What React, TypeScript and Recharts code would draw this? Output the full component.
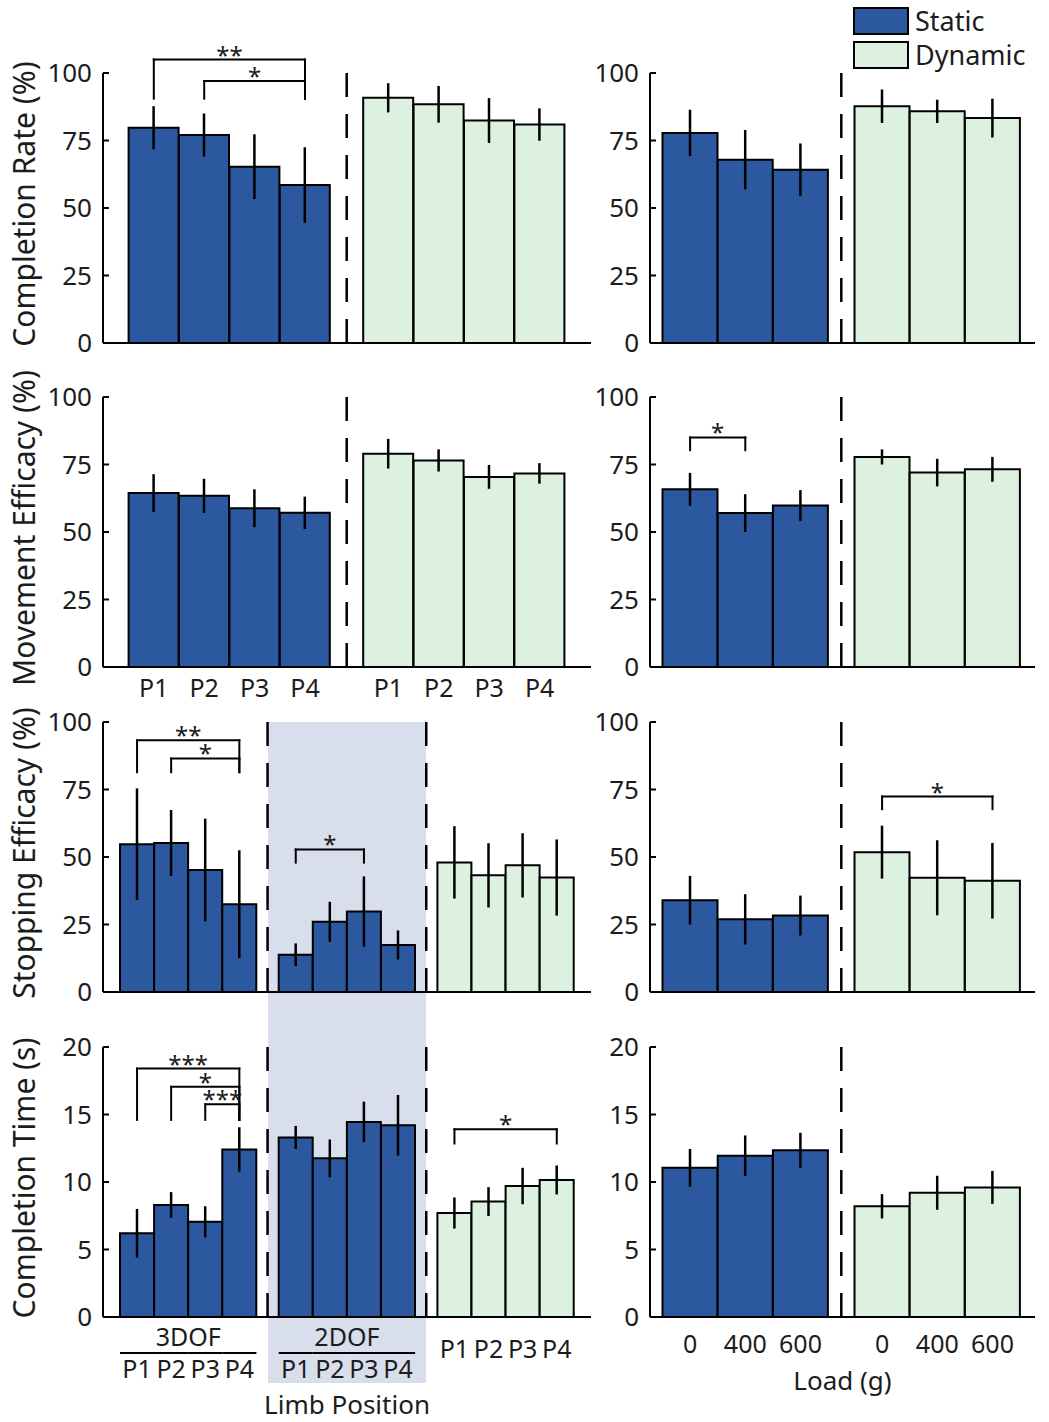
import React from 'react';
import { BarChart, Bar, XAxis, YAxis, ErrorBar, ReferenceLine, Legend } from 'recharts';

// ---------------- data ----------------
const positions = ['P1', 'P2', 'P3', 'P4'];
const loads = ['0', '400', '600'];
const pctTicks = [0, 25, 50, 75, 100];
const timeTicks = [0, 5, 10, 15, 20];
const legendItems = ['Static', 'Dynamic'];

// Completion rate (%)
const crPosStatic = [79.7, 77, 65.3, 58.5];
const crPosStaticErr = [8, 8, 12, 14];
const crPosDynamic = [90.8, 88.4, 82.4, 80.9];
const crPosDynamicErr = [5.4, 6.8, 8.3, 6];
const crLoadStatic = [77.8, 67.9, 64.2];
const crLoadStaticErr = [8.6, 11, 9.7];
const crLoadDynamic = [87.7, 85.8, 83.3];
const crLoadDynamicErr = [6.2, 4.3, 7.2];

// Movement efficacy (%)
const mePosStatic = [64.4, 63.4, 58.8, 57.1];
const mePosStaticErr = [7, 6.3, 7, 6];
const mePosDynamic = [79, 76.5, 70.4, 71.7];
const mePosDynamicErr = [5.5, 4.1, 4.4, 3.8];
const meLoadStatic = [65.8, 57, 59.8];
const meLoadStaticErr = [6.1, 7, 5.7];
const meLoadDynamic = [77.8, 72, 73.2];
const meLoadDynamicErr = [2.8, 5.1, 4.6];

// Stopping efficacy (%)
const sePos3dof = [54.7, 55.2, 45.2, 32.5];
const sePos3dofErr = [20.7, 12.2, 19, 20];
const sePos2dof = [13.8, 26, 29.8, 17.4];
const sePos2dofErr = [4.2, 7.4, 13, 5.4];
const sePosDynamic = [48, 43.2, 46.9, 42.4];
const sePosDynamicErr = [13.4, 11.9, 11.9, 14.1];
const seLoadStatic = [34, 26.9, 28.3];
const seLoadStaticErr = [9, 9.3, 7.4];
const seLoadDynamic = [51.8, 42.3, 41.2];
const seLoadDynamicErr = [9.8, 13.9, 14];

// Completion time (s)
const ctPos3dof = [6.2, 8.3, 7.05, 12.4];
const ctPos3dofErr = [1.8, 0.95, 1.15, 1.65];
const ctPos2dof = [13.3, 11.75, 14.45, 14.2];
const ctPos2dofErr = [0.85, 1.4, 1.5, 2.25];
const ctPosDynamic = [7.7, 8.55, 9.7, 10.15];
const ctPosDynamicErr = [1.15, 1.07, 1.35, 1.07];
const ctLoadStatic = [11.05, 11.95, 12.35];
const ctLoadStaticErr = [1.4, 1.5, 1.3];
const ctLoadDynamic = [8.2, 9.2, 9.6];
const ctLoadDynamicErr = [0.9, 1.26, 1.22];

// significance brackets (axis group, from, to, top value, leg bottom value, label)
const crPosBrackets = [
  { axis: 's', from: 'P1', to: 'P4', top: 105, leg: 90.5, label: '**' },
  { axis: 's', from: 'P2', to: 'P4', top: 97, leg: 90.5, label: '*' },
];
const meLoadBrackets = [{ axis: 's', from: '0', to: '400', top: 85, leg: 80.3, label: '*' }];
const sePosBrackets = [
  { axis: 'a', from: 'P1', to: 'P4', top: 93.2, leg: 81.4, label: '**' },
  { axis: 'a', from: 'P2', to: 'P4', top: 86.5, leg: 81.4, label: '*' },
  { axis: 'b', from: 'P1', to: 'P3', top: 52.8, leg: 47.9, label: '*' },
];
const seLoadBrackets = [{ axis: 'd', from: '0', to: '600', top: 72.4, leg: 67.7, label: '*' }];
const ctPosBrackets = [
  { axis: 'a', from: 'P1', to: 'P4', top: 18.4, leg: 14.6, label: '***' },
  { axis: 'a', from: 'P2', to: 'P4', top: 17.05, leg: 14.6, label: '*' },
  { axis: 'a', from: 'P3', to: 'P4', top: 15.75, leg: 14.6, label: '***' },
  { axis: 'd', from: 'P1', to: 'P4', top: 13.9, leg: 12.85, label: '*' },
];

// ---------------- styles / layout ----------------
const BLUE = '#2c58a0';
const GREEN = '#ddf1e1';
const SHADE = '#d8deeb';
const INK = '#1c1c1c';
const FONT = '"Noto Sans", "Open Sans", sans-serif';

const SIDES: any = {
  left: { x: 0, width: 592, yAxisWidth: 103, marginRight: 1 },
  right: { x: 592, width: 457, yAxisWidth: 58, marginRight: 14 },
};
const ROW_PLOT_TOP = [73, 397, 722, 1047];
const PLOT_H = 270;
const ROW_MARGIN_TOP = [73, 60, 60, 60];
const ROW_MARGIN_BOTTOM = [40, 40, 40, 125];
const SPACING: any = {
  pos2: { padL: 25.6, slot: 50.4, gap: 33 },
  pos3: { padL: 17, slot: 34.1, gap: 22.3 },
  load: { padL: 12.5, slot: 55.2, gap: 26.4 },
};
const SHADE_BOTTOM = 1383;
const AXIS_H = 0.01;

const groupPadding = (sp: any, n: number, i: number, plotW: number) => {
  const start = sp.padL + i * (n * sp.slot + sp.gap);
  return { left: start, right: plotW - start - n * sp.slot };
};
const separatorPositions = (sp: any, n: number, count: number) =>
  Array.from({ length: count - 1 }, (_, i) => sp.padL + (i + 1) * n * sp.slot + i * sp.gap + sp.gap / 2);

const buildRows = (cats: string[], series: Record<string, number[]>) =>
  cats.map((c, i) => {
    const r: any = { cat: c };
    Object.keys(series).forEach((k) => {
      r[k] = series[k][i];
    });
    return r;
  });

// ---------------- components ----------------
const YTitle = (p: any) => {
  const vb = p.viewBox || { x: 0, y: 0, height: PLOT_H };
  const cx = vb.x + 24;
  const cy = vb.y + vb.height / 2 - 4;
  return (
    <text x={cx} y={cy} transform={`rotate(-90 ${cx} ${cy})`} textAnchor="middle" dominantBaseline="central" fontSize={30} fill={INK}>
      {p.text}
    </text>
  );
};

const GroupTick = (p: any) => {
  const { x, y, payload, index, title, slot } = p;
  return (
    <g>
      <line x1={x - slot / 2} x2={x + slot / 2} y1={y + 36} y2={y + 36} stroke="#000" strokeWidth={2} />
      <text x={x} y={y + 61.5} textAnchor="middle" fontSize={25} fill={INK}>
        {payload.value}
      </text>
      {index === 1 ? (
        <text x={x + slot / 2} y={y + 29.5} textAnchor="middle" fontSize={25} fill={INK}>
          {title}
        </text>
      ) : null}
    </g>
  );
};

const SepLine = (p: any) => {
  const top = Math.min(p.y1, p.y2);
  const bottom = Math.max(p.y1, p.y2);
  const x = p.x1 + p.shift;
  return <line x1={x} x2={x} y1={top} y2={bottom} stroke="#000" strokeWidth={2.5} strokeDasharray="24 17" />;
};

const LegendBox = () => (
  <div style={{ display: 'flex', flexDirection: 'column', gap: 6, fontFamily: FONT }}>
    {legendItems.map((name, i) => (
      <div key={name} style={{ display: 'flex', alignItems: 'center', height: 28 }}>
        <div
          style={{
            width: 56,
            height: 28,
            boxSizing: 'border-box',
            background: i === 0 ? BLUE : GREEN,
            border: '2px solid #000',
          }}
        />
        <span style={{ marginLeft: 6, fontSize: 27, color: INK, lineHeight: '28px' }}>{name}</span>
      </div>
    ))}
  </div>
);

const bracketLines = (list: any[]) =>
  list.flatMap((b, i) => {
    const common = { xAxisId: b.axis, stroke: '#000', strokeWidth: 2, ifOverflow: 'visible' as const, strokeLinecap: 'square' as const };
    return [
      <ReferenceLine
        key={`bh${i}`}
        {...common}
        segment={[{ x: b.from, y: b.top }, { x: b.to, y: b.top }]}
        label={{ value: b.label, position: 'top', offset: -4, fontSize: 24, fill: INK }}
      />,
      <ReferenceLine key={`bl${i}`} {...common} segment={[{ x: b.from, y: b.top }, { x: b.from, y: b.leg }]} />,
      <ReferenceLine key={`br${i}`} {...common} segment={[{ x: b.to, y: b.top }, { x: b.to, y: b.leg }]} />,
    ];
  });

function Panel(props: any) {
  const side = SIDES[props.side];
  const mt = ROW_MARGIN_TOP[props.row];
  const mb = ROW_MARGIN_BOTTOM[props.row];
  const plotW = side.width - side.yAxisWidth - side.marginRight;
  const n = props.data.length;
  const height = mt + PLOT_H + mb;
  const sp = SPACING[props.spacing];
  return (
    <div style={{ position: 'absolute', left: side.x, top: ROW_PLOT_TOP[props.row] - mt }}>
      <BarChart
        width={side.width}
        height={height}
        data={props.data}
        margin={{ top: mt, right: side.marginRight, bottom: mb, left: 0 }}
        barCategoryGap={0}
        barGap={0}
      >
        <YAxis
          type="number"
          width={side.yAxisWidth}
          domain={props.yDomain}
          ticks={props.yTicks}
          interval={0}
          allowDataOverflow
          tickSize={-6}
          tickMargin={17}
          tick={{ fill: INK, fontSize: 26 }}
          axisLine={{ stroke: '#000', strokeWidth: 2 }}
          tickLine={{ stroke: '#000', strokeWidth: 2 }}
          label={props.yTitle ? <YTitle text={props.yTitle} /> : undefined}
        />
        {props.groups.map((g: any, i: number) => {
          const pad = groupPadding(sp, n, i, plotW);
          let tick: any = false;
          let margin = 0;
          if (typeof g.tick === 'number') {
            tick = { fill: INK, fontSize: 25 };
            margin = g.tick;
          } else if (g.tick && g.tick.title) {
            tick = <GroupTick title={g.tick.title} slot={sp.slot} />;
          }
          return (
            <XAxis
              key={g.id}
              xAxisId={g.id}
              dataKey="cat"
              type="category"
              height={AXIS_H}
              padding={pad}
              interval={0}
              axisLine={i === 0 ? { stroke: '#000', strokeWidth: 2 } : false}
              tickLine={false}
              tickSize={0}
              tickMargin={margin}
              tick={tick}
              label={
                i === 0 && props.xLabel
                  ? { value: props.xLabel.text, position: 'bottom', offset: props.xLabel.offset, fontSize: 26, fill: INK }
                  : undefined
              }
            />
          );
        })}
        {props.groups.slice(1).map((g: any, i: number) => (
          <ReferenceLine
            key={`sep${i}`}
            xAxisId={g.id}
            x={props.data[0].cat}
            position="start"
            ifOverflow="visible"
            stroke="#000"
            shape={<SepLine shift={-sp.gap / 2} />}
          />
        ))}
        {props.groups.map((g: any) => (
          <Bar
            key={`bar-${g.id}`}
            xAxisId={g.id}
            dataKey={g.key}
            name={g.name}
            fill={g.fill}
            stroke="#000"
            strokeWidth={2}
            isAnimationActive={false}
          >
            <ErrorBar dataKey={g.err} width={0} strokeWidth={2.5} stroke="#000" direction="y" />
          </Bar>
        ))}
        {bracketLines(props.brackets || [])}
        {props.legend ? (
          <Legend
            layout="vertical"
            align="center"
            verticalAlign="middle"
            wrapperStyle={{ left: 853 - side.x, top: 7 }}
            content={() => <LegendBox />}
          />
        ) : null}
      </BarChart>
    </div>
  );
}

const twoGroups = (sTick: any, dTick: any) => [
  { id: 's', key: 's', err: 'sErr', fill: BLUE, name: 'Static', tick: sTick },
  { id: 'd', key: 'd', err: 'dErr', fill: GREEN, name: 'Dynamic', tick: dTick },
];
const threeGroups = (aTick: any, bTick: any, dTick: any) => [
  { id: 'a', key: 'a', err: 'aErr', fill: BLUE, name: 'Static 3DOF', tick: aTick },
  { id: 'b', key: 'b', err: 'bErr', fill: BLUE, name: 'Static 2DOF', tick: bTick },
  { id: 'd', key: 'd', err: 'dErr', fill: GREEN, name: 'Dynamic', tick: dTick },
];

export default function App() {
  const leftPlotX = SIDES.left.x + SIDES.left.yAxisWidth;
  const shadeSeps = separatorPositions(SPACING.pos3, positions.length, 3);

  return (
    <div
      style={{
        position: 'absolute',
        left: 0,
        top: 0,
        width: 1049,
        height: 1422,
        background: '#fff',
        fontFamily: FONT,
        overflow: 'hidden',
      }}
    >
      <div
        style={{
          position: 'absolute',
          left: leftPlotX + shadeSeps[0],
          top: ROW_PLOT_TOP[2],
          width: shadeSeps[1] - shadeSeps[0],
          height: SHADE_BOTTOM - ROW_PLOT_TOP[2],
          background: SHADE,
        }}
      />

      <Panel
        side="left"
        row={0}
        spacing="pos2"
        data={buildRows(positions, { s: crPosStatic, sErr: crPosStaticErr, d: crPosDynamic, dErr: crPosDynamicErr })}
        groups={twoGroups(null, null)}
        yDomain={[0, 100]}
        yTicks={pctTicks}
        yTitle="Completion Rate (%)"
        brackets={crPosBrackets}
      />
      <Panel
        side="right"
        row={0}
        spacing="load"
        data={buildRows(loads, { s: crLoadStatic, sErr: crLoadStaticErr, d: crLoadDynamic, dErr: crLoadDynamicErr })}
        groups={twoGroups(null, null)}
        yDomain={[0, 100]}
        yTicks={pctTicks}
        legend
      />

      <Panel
        side="left"
        row={1}
        spacing="pos2"
        data={buildRows(positions, { s: mePosStatic, sErr: mePosStaticErr, d: mePosDynamic, dErr: mePosDynamicErr })}
        groups={twoGroups(12.5, 12.5)}
        yDomain={[0, 100]}
        yTicks={pctTicks}
        yTitle="Movement Efficacy (%)"
      />
      <Panel
        side="right"
        row={1}
        spacing="load"
        data={buildRows(loads, { s: meLoadStatic, sErr: meLoadStaticErr, d: meLoadDynamic, dErr: meLoadDynamicErr })}
        groups={twoGroups(null, null)}
        yDomain={[0, 100]}
        yTicks={pctTicks}
        brackets={meLoadBrackets}
      />

      <Panel
        side="left"
        row={2}
        spacing="pos3"
        data={buildRows(positions, {
          a: sePos3dof,
          aErr: sePos3dofErr,
          b: sePos2dof,
          bErr: sePos2dofErr,
          d: sePosDynamic,
          dErr: sePosDynamicErr,
        })}
        groups={threeGroups(null, null, null)}
        yDomain={[0, 100]}
        yTicks={pctTicks}
        yTitle="Stopping Efficacy (%)"
        brackets={sePosBrackets}
      />
      <Panel
        side="right"
        row={2}
        spacing="load"
        data={buildRows(loads, { s: seLoadStatic, sErr: seLoadStaticErr, d: seLoadDynamic, dErr: seLoadDynamicErr })}
        groups={twoGroups(null, null)}
        yDomain={[0, 100]}
        yTicks={pctTicks}
        brackets={seLoadBrackets}
      />

      <Panel
        side="left"
        row={3}
        spacing="pos3"
        data={buildRows(positions, {
          a: ctPos3dof,
          aErr: ctPos3dofErr,
          b: ctPos2dof,
          bErr: ctPos2dofErr,
          d: ctPosDynamic,
          dErr: ctPosDynamicErr,
        })}
        groups={threeGroups({ title: '3DOF' }, { title: '2DOF' }, 23.5)}
        yDomain={[0, 20]}
        yTicks={timeTicks}
        yTitle="Completion Time (s)"
        brackets={ctPosBrackets}
        xLabel={{ text: 'Limb Position', offset: 79 }}
      />
      <Panel
        side="right"
        row={3}
        spacing="load"
        data={buildRows(loads, { s: ctLoadStatic, sErr: ctLoadStaticErr, d: ctLoadDynamic, dErr: ctLoadDynamicErr })}
        groups={twoGroups(18.5, 18.5)}
        yDomain={[0, 20]}
        yTicks={timeTicks}
        xLabel={{ text: 'Load (g)', offset: 55 }}
      />
    </div>
  );
}
